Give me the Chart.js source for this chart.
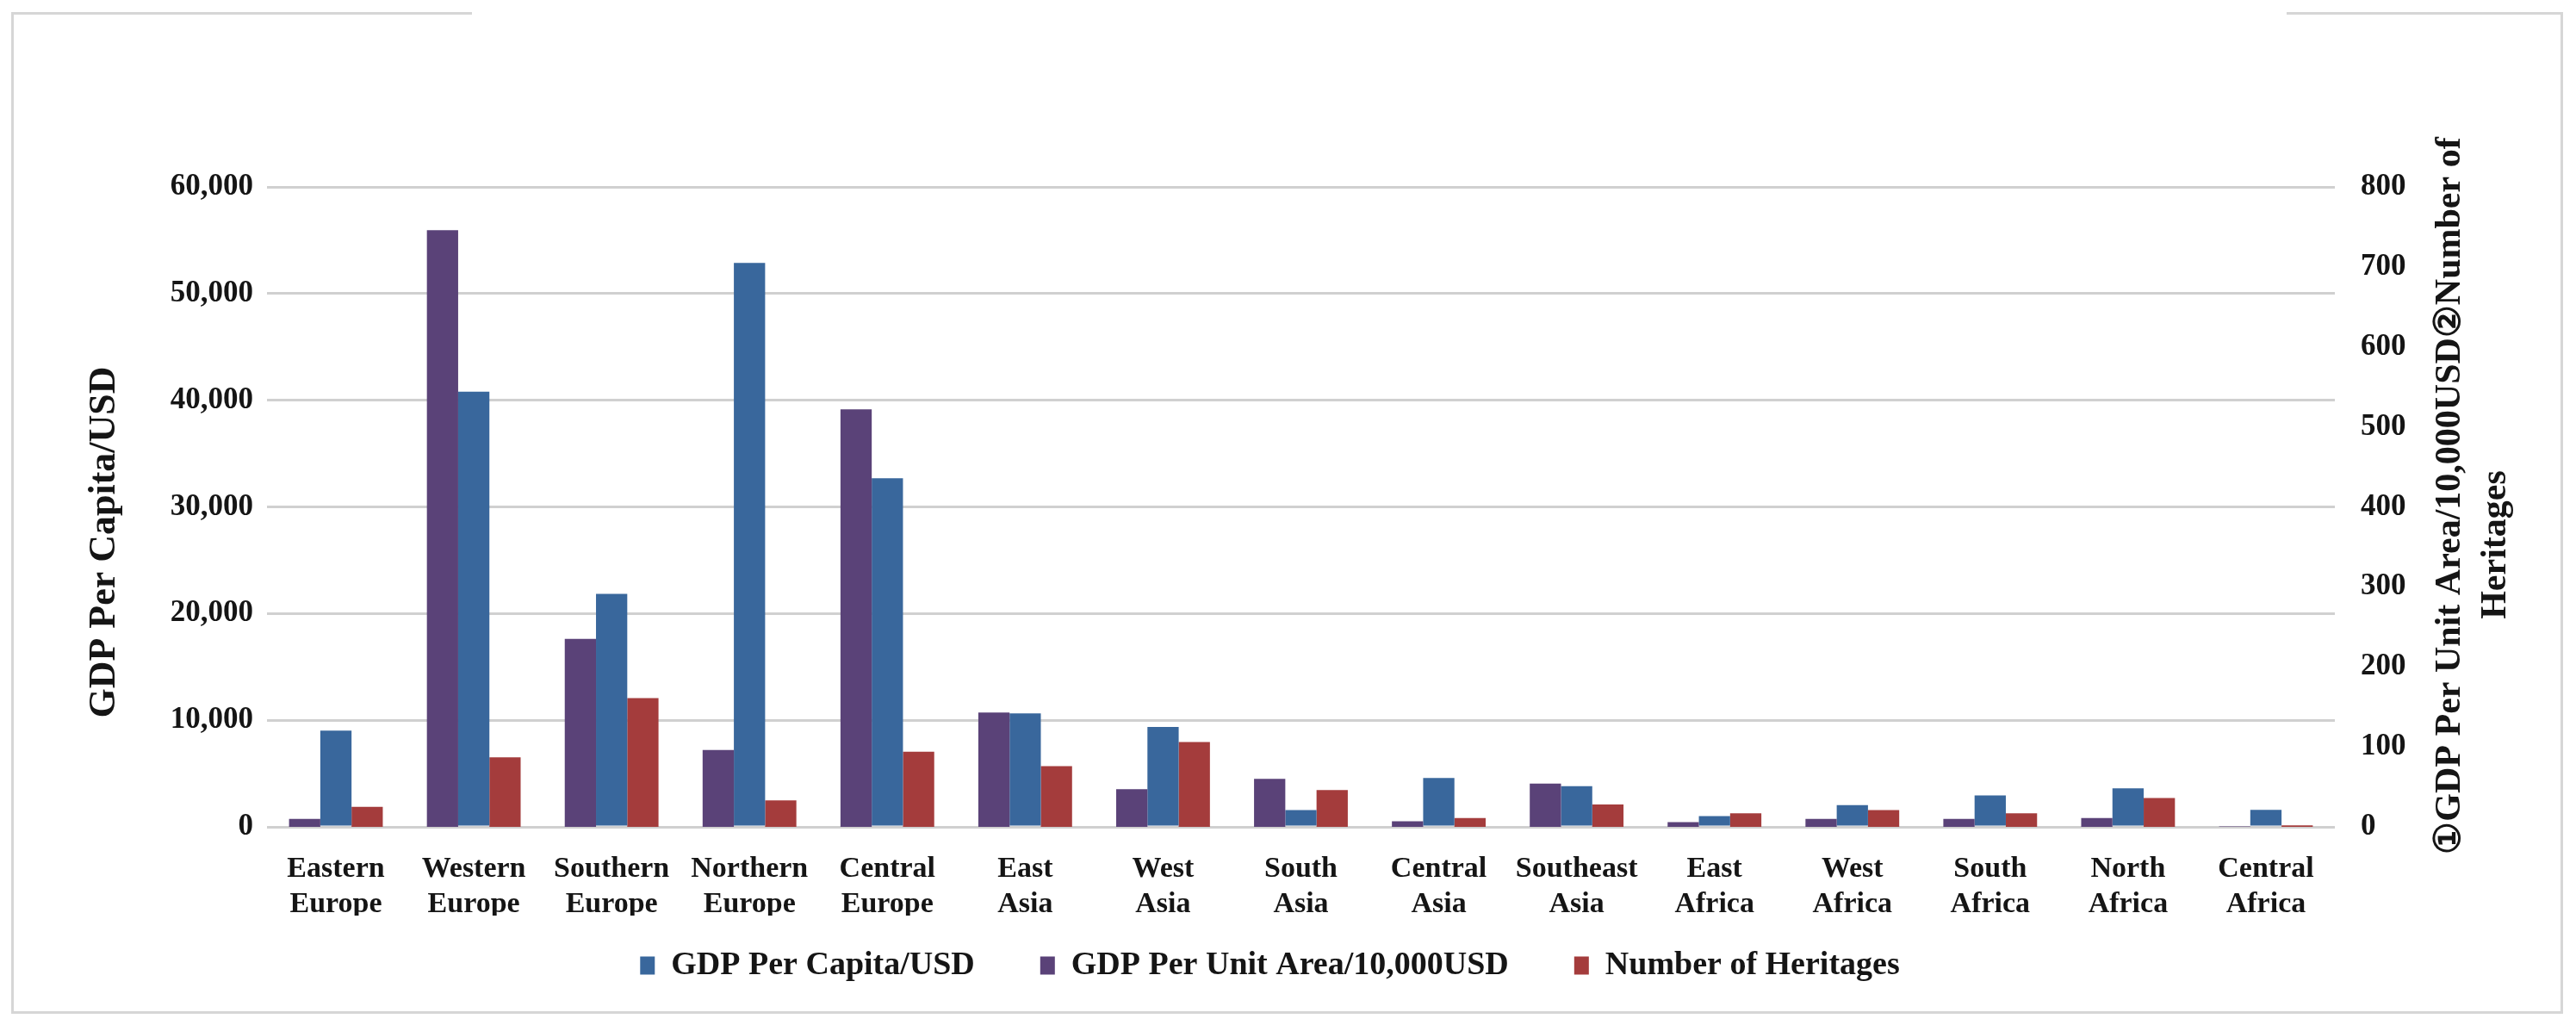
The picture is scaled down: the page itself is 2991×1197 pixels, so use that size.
<!DOCTYPE html>
<html>
<head>
<meta charset="utf-8">
<title>GDP and heritages by region</title>
<script src="https://cdn.jsdelivr.net/npm/chart.js@4.4.1/dist/chart.umd.min.js"></script>
<style>
  html, body { margin: 0; padding: 0; background: #fff; }
  #wrap { position: relative; width: 2991px; height: 1197px; }
  #frame { position: absolute; left: 13px; top: 14px; width: 2957px; height: 1160px; border: 3px solid #d6d6d6; border-top: none; }
  .topline { position: absolute; top: 14px; height: 3px; background: #d6d6d6; }
  canvas { position: absolute; left: 0; top: 0; }
</style>
</head>
<body>
<div id="wrap">
  <div id="frame"></div>
  <div class="topline" style="left:13px;width:535px"></div>
  <div class="topline" style="left:2655px;width:318px"></div>
  <canvas id="chart" width="2991" height="1197"></canvas>
</div>
<script>
const regions = [
  ["Eastern", "Europe"], ["Western", "Europe"], ["Southern", "Europe"], ["Northern", "Europe"],
  ["Central", "Europe"], ["East", "Asia"], ["West", "Asia"], ["South", "Asia"],
  ["Central", "Asia"], ["Southeast", "Asia"], ["East", "Africa"], ["West", "Africa"],
  ["South", "Africa"], ["North", "Africa"], ["Central", "Africa"]
];

// left axis (USD)
const gdpPerCapita = [9030, 40800, 21840, 52870, 32680, 10630, 9360, 1570, 4580, 3810, 1000, 2040, 2940, 3610, 1600];
// right axis
const gdpPerArea = [10, 746, 235, 96, 522, 143, 47, 60, 7, 54, 6, 10, 10, 11, 0.5];
const heritages = [25, 87, 161, 33, 94, 76, 106, 46, 11, 28, 17, 21, 17, 36, 2];

const leftMax = 60000, leftStep = 10000;
const rightMax = 800, rightStep = 100;

const leftTitle = "GDP Per Capita/USD";
const rightTitleLines = ["\u2460GDP Per Unit Area/10,000USD\u2461Number of", "Heritages"];
const legendOrder = [1, 0, 2];

const FONT = "'Liberation Serif', 'Times New Roman', serif";
const INK = "#151515";

// both axis titles read bottom-to-top and sit a little off the axis centre
const axisTitles = {
  id: "axisTitles",
  afterDraw(chart) {
    const { ctx, chartArea, scales } = chart;
    const cy = (chartArea.top + chartArea.bottom) / 2;
    const put = (text, x, y, size) => {
      ctx.save();
      ctx.font = "bold " + size + "px " + FONT;
      ctx.fillStyle = INK;
      ctx.textAlign = "center";
      ctx.textBaseline = "middle";
      ctx.translate(x, y);
      ctx.rotate(-Math.PI / 2);
      ctx.fillText(text, 0, 0);
      ctx.restore();
    };
    put(leftTitle, scales.y.left + 62, cy + 41, 44);
    put(rightTitleLines[0], scales.y1.left + 134, cy - 13, 42);
    put(rightTitleLines[1], scales.y1.left + 187, cy + 44, 42);
  }
};

// legend sits closer to the category labels than Chart.js would put it
const legendPlace = {
  id: "legendPlace",
  afterLayout(chart) {
    const lg = chart.legend;
    const h = lg.bottom - lg.top;
    lg.top = chart.chartArea.bottom + 66;
    lg.bottom = lg.top + h;
    lg.left -= 21;
    lg.right -= 21;
  }
};

new Chart(document.getElementById("chart"), {
  type: "bar",
  data: {
    labels: regions,
    datasets: [
      { label: "GDP Per Unit Area/10,000USD", data: gdpPerArea, backgroundColor: "#5a4278", yAxisID: "y1" },
      { label: "GDP Per Capita/USD", data: gdpPerCapita, backgroundColor: "#39679c", yAxisID: "y" },
      { label: "Number of Heritages", data: heritages, backgroundColor: "#a43c3c", yAxisID: "y1" }
    ]
  },
  options: {
    responsive: false,
    devicePixelRatio: 1,
    animation: false,
    categoryPercentage: 0.68,
    barPercentage: 1.0,
    layout: { padding: { left: 60, right: 60, top: 217, bottom: 10 } },
    plugins: {
      tooltip: { enabled: false },
      legend: {
        position: "bottom",
        labels: {
          font: { family: FONT, size: 38, weight: "bold" },
          color: INK,
          boxWidth: 17,
          boxHeight: 21,
          padding: 76,
          sort: (a, b) => legendOrder.indexOf(a.datasetIndex) - legendOrder.indexOf(b.datasetIndex)
        }
      }
    },
    scales: {
      x: {
        grid: { display: false },
        border: { display: false },
        ticks: {
          font: { family: FONT, size: 34, weight: "bold" },
          color: INK,
          padding: 21,
          maxRotation: 0,
          autoSkip: false
        },
        afterFit: (s) => { s.height = 103; }
      },
      y: {
        position: "left",
        min: 0,
        max: leftMax,
        grid: { color: "#d0d0d0", lineWidth: 3, drawTicks: false },
        border: { display: false },
        ticks: {
          stepSize: leftStep,
          font: { family: FONT, size: 35, weight: "bold" },
          color: INK,
          padding: 16,
          callback: (v) => v.toLocaleString("en-US")
        },
        afterFit: (s) => { s.width = 250; }
      },
      y1: {
        position: "right",
        min: 0,
        max: rightMax,
        grid: { display: false, drawTicks: false },
        border: { display: false },
        ticks: {
          stepSize: rightStep,
          font: { family: FONT, size: 35, weight: "bold" },
          color: INK,
          padding: 30
        },
        afterFit: (s) => { s.width = 220; }
      }
    }
  },
  plugins: [axisTitles, legendPlace]
});
</script>
</body>
</html>
